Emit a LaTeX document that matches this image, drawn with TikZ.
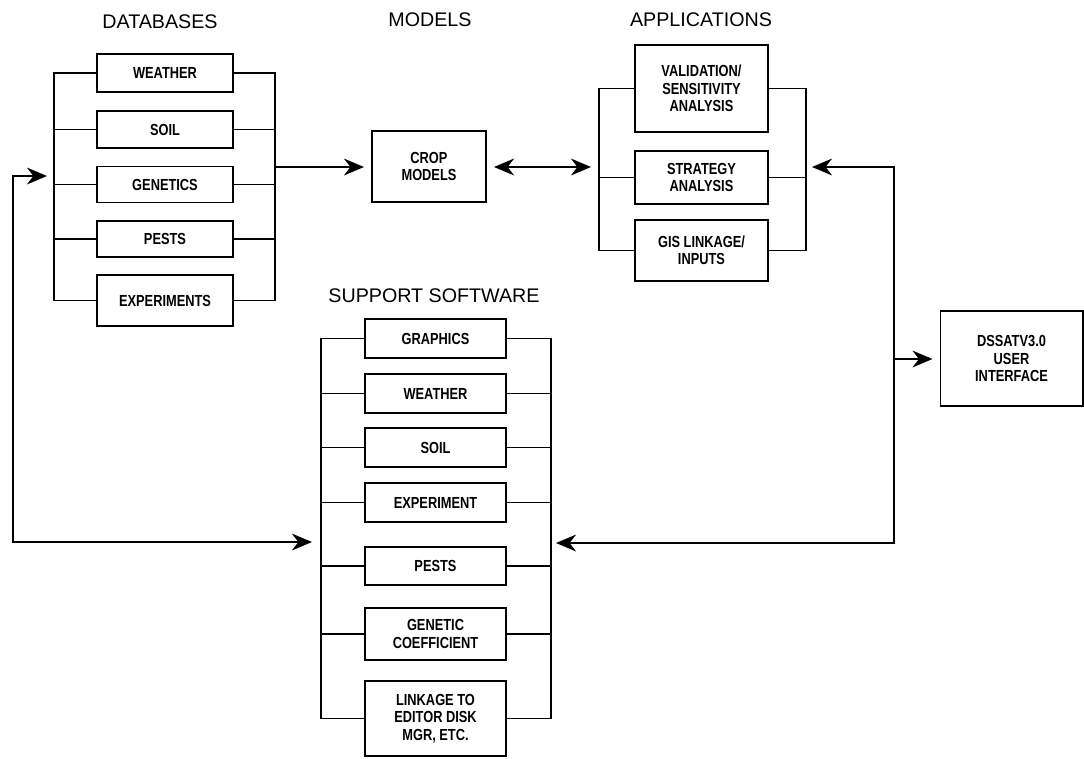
\documentclass[tikz,border=0pt]{standalone}
\usepackage{fontspec}
\setmainfont{Liberation Sans}
\newfontfamily\lblfont[FakeStretch=0.8]{Liberation Sans}
\usetikzlibrary{arrows.meta}
\begin{document}
\begin{tikzpicture}[x=0.025cm,y=-0.025cm,
  box/.style={draw, line width=1.4pt, align=center, inner sep=1pt,
    font=\lblfont\bfseries\fontsize{11.4}{12.4}\selectfont},
  bus/.style={line width=1.4pt, line cap=rect},
  title/.style={font=\fontsize{14}{16}\selectfont},
  tip/.tip={Stealth[length=5mm,width=4.2mm,inset=1.6mm]},
  arr/.style={line width=1.4pt, -tip},
  darr/.style={line width=1.4pt, tip-tip}]
\useasboundingbox (0,0) rectangle (1084,758);

% titles
\node[title] (tdb) at (160,22) {DATABASES};
\node[title] (tmod) at (430,20) {MODELS};
\node[title] (tapp) at (701,20) {APPLICATIONS};
\node[title] (tsup) at (434,296) {SUPPORT SOFTWARE};

% databases
\node[box, minimum width=3.4cm, minimum height=0.95cm] (dbw) at (165,73) {WEATHER};
\node[box, minimum width=3.4cm, minimum height=0.925cm] (dbs) at (165,129.5) {SOIL};
\node[box, minimum width=3.4cm, minimum height=0.9cm] (dbg) at (165,184.5) {GENETICS};
\node[box, minimum width=3.4cm, minimum height=0.9cm] (dbp) at (165,239) {PESTS};
\node[box, minimum width=3.4cm, minimum height=1.275cm] (dbe) at (165,300.5) {EXPERIMENTS};
\coordinate (dbL) at (54,73);
\coordinate (dbR) at (275,73);
\draw[bus] (dbw.west) -- (dbw.west -| dbL) -- (dbe.west -| dbL) -- (dbe.west);
\draw[bus] (dbw.east) -- (dbw.east -| dbR) -- (dbe.east -| dbR) -- (dbe.east);
\foreach \n in {dbs,dbg,dbp}{
  \draw[bus] (\n.west) -- (\n.west -| dbL);
  \draw[bus] (\n.east) -- (\n.east -| dbR);
}

% crop models
\node[box, minimum width=2.85cm, minimum height=1.775cm] (crop) at (429,166.5) {CROP\\MODELS};

% applications
\node[box, minimum width=3.325cm, minimum height=2.175cm] (av) at (701.5,88.5) {VALIDATION/\\SENSITIVITY\\ANALYSIS};
\node[box, minimum width=3.325cm, minimum height=1.325cm] (as) at (701.5,177.5) {STRATEGY\\ANALYSIS};
\node[box, minimum width=3.325cm, minimum height=1.525cm] (ag) at (701.5,250.5) {GIS LINKAGE/\\INPUTS};
\coordinate (apL) at (599,88);
\coordinate (apR) at (806,88);
\draw[bus] (av.west) -- (av.west -| apL) -- (ag.west -| apL) -- (ag.west);
\draw[bus] (av.east) -- (av.east -| apR) -- (ag.east -| apR) -- (ag.east);
\draw[bus] (as.west) -- (as.west -| apL);
\draw[bus] (as.east) -- (as.east -| apR);

% DSSAT
\node[box, minimum width=3.55cm, minimum height=2.375cm] (dssat) at (1011.5,358.5) {DSSATV3.0\\USER\\INTERFACE};

% support software
\node[box, minimum width=3.525cm, minimum height=0.975cm] (sg) at (435.5,338.5) {GRAPHICS};
\node[box, minimum width=3.525cm, minimum height=0.975cm] (sw) at (435.5,393.5) {WEATHER};
\node[box, minimum width=3.525cm, minimum height=0.975cm] (ss) at (435.5,447.5) {SOIL};
\node[box, minimum width=3.525cm, minimum height=0.975cm] (sx) at (435.5,502.5) {EXPERIMENT};
\node[box, minimum width=3.525cm, minimum height=0.95cm] (sp) at (435.5,566) {PESTS};
\node[box, minimum width=3.525cm, minimum height=1.3cm] (sc) at (435.5,634) {GENETIC\\COEFFICIENT};
\node[box, minimum width=3.525cm, minimum height=1.875cm] (sl) at (435.5,718.5) {LINKAGE TO\\EDITOR DISK\\MGR, ETC.};
\coordinate (suL) at (321,338);
\coordinate (suR) at (551,338);
\draw[bus] (sg.west) -- (sg.west -| suL) -- (sl.west -| suL) -- (sl.west);
\draw[bus] (sg.east) -- (sg.east -| suR) -- (sl.east -| suR) -- (sl.east);
\foreach \n in {sw,ss,sx,sp,sc}{
  \draw[bus] (\n.west) -- (\n.west -| suL);
  \draw[bus] (\n.east) -- (\n.east -| suR);
}

% connectors
\coordinate (dbOut) at (275,167);
\coordinate (dbIn) at (54,176);
\coordinate (lc) at (13,176);
\coordinate (supInL) at (321,542);
\coordinate (apIn) at (599,167);
\coordinate (apInR) at (806,167);
\coordinate (rc) at (894,167);
\coordinate (rcMid) at (894,359);
\coordinate (supInR) at (551,543);

\draw[arr, shorten >=1.75mm] (dbOut) -- (crop.west |- dbOut);
\draw[darr, shorten <=1.75mm, shorten >=2mm] (crop.east |- apIn) -- (apIn);
\draw[darr, shorten <=1.75mm, shorten >=2.25mm] (dbIn) -- (lc) |- (supInL);
\draw[darr, shorten <=1.5mm, shorten >=1.25mm] (apInR) -- (rc) |- (supInR);
\draw[arr, shorten >=1.75mm] (rcMid) -- (dssat.west |- rcMid);
\end{tikzpicture}
\end{document}
